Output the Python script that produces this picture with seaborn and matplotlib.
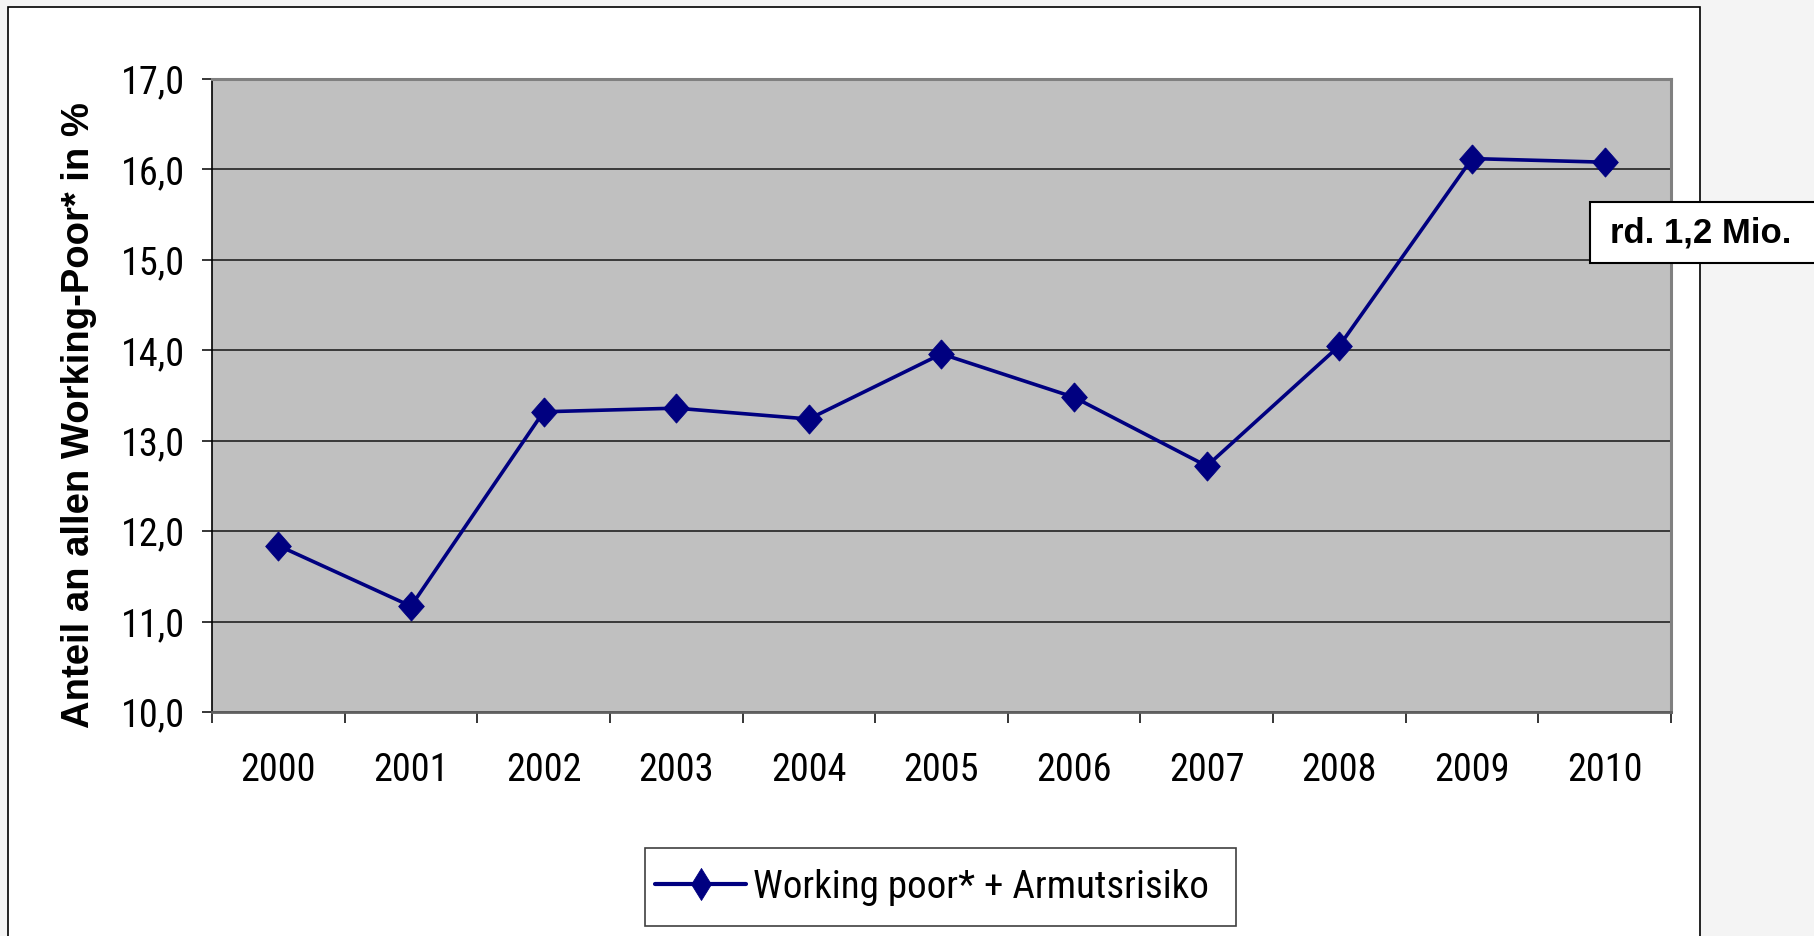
import numpy as np
import pandas as pd
import matplotlib
matplotlib.use("Agg")
import matplotlib.pyplot as plt
from matplotlib import font_manager
from matplotlib.font_manager import FontProperties
from matplotlib.patches import Rectangle
import seaborn as sns

# ---- data ----
years = [2000, 2001, 2002, 2003, 2004, 2005, 2006, 2007, 2008, 2009, 2010]
values = [11.84, 11.17, 13.32, 13.36, 13.24, 13.96, 13.48, 12.72, 14.05, 16.12, 16.08]
series_label = "Working poor* + Armutsrisiko"
y_ticks = [10, 11, 12, 13, 14, 15, 16, 17]
y_tick_labels = ["10,0", "11,0", "12,0", "13,0", "14,0", "15,0", "16,0", "17,0"]
y_label = "Anteil an allen Working-Poor* in %"
note_text = "rd. 1,2 Mio."

sns.set_style("white")
plt.rcParams["font.family"] = ["Liberation Sans", "DejaVu Sans"]
plt.rcParams["text.color"] = "black"
plt.rcParams["xtick.color"] = "black"
plt.rcParams["ytick.color"] = "black"
plt.rcParams["axes.labelcolor"] = "black"


# ---- pick a narrow / condensed regular face if one is installed ----
def _w(f):
    w = f.weight
    if isinstance(w, str):
        return font_manager.weight_dict.get(w, 400)
    return w


def pick_condensed():
    cands = []
    prefs = ["Liberation Sans Narrow", "Arimo", "Roboto", "Noto Sans", "Open Sans",
             "Lato", "Inter", "DejaVu Sans"]
    for f in font_manager.fontManager.ttflist:
        nm = f.name
        st = str(f.stretch)
        is_narrow = ("Narrow" in nm or "Condensed" in nm or "condensed" in st
                     or "narrow" in st)
        if not is_narrow or f.style != "normal" or _w(f) != 400:
            continue
        if "ultra" in st or "extra" in st:
            continue
        if "CJK" in nm or "Mono" in nm or "Serif" in nm:
            continue
        rank = len(prefs)
        for i, p in enumerate(prefs):
            if nm.startswith(p):
                rank = i
                break
        semi = 1 if "semi" in st else 0
        cands.append((rank, semi, f.fname))
    if not cands:
        return None
    cands.sort()
    return cands[0][2]


cond_path = pick_condensed()


def reg_fp(size):
    if cond_path:
        return FontProperties(fname=cond_path, size=size)
    return FontProperties(family=["Liberation Sans", "DejaVu Sans"], size=size)


W, H = 1815, 936
fig = plt.figure(figsize=(W / 100, H / 100), dpi=100, facecolor="#f4f4f4")
renderer = fig.canvas.get_renderer()


def fit_size(text, target_px, max_size):
    t = fig.text(0, 0, text, fontproperties=reg_fp(20))
    w = t.get_window_extent(renderer).width
    t.remove()
    return min(max_size, 20 * target_px / w)


tick_size = fit_size("2000", 76, 27.5)
leg_size = fit_size(series_label, 455, 34)

# outer white frame
fig.patches.append(Rectangle((8 / W, -0.02), (1700 - 8) / W, (H - 7) / H + 0.02,
                             transform=fig.transFigure, facecolor="white",
                             edgecolor="black", linewidth=1.2, zorder=-5))
# legend frame (drawn below the axes layer, so the legend sits on top)
fig.patches.append(Rectangle((645 / W, 1 - 926 / H), (1236 - 645) / W, (926 - 848) / H,
                             transform=fig.transFigure, facecolor="white",
                             edgecolor="#404040", linewidth=1.2, zorder=-4))

ax = fig.add_axes([212 / W, 1 - 712 / H, (1671 - 212) / W, (712 - 79) / H])
ax.set_facecolor("#c0c0c0")

diamond = [(0, 1), (0.88, 0), (0, -1), (-0.88, 0), (0, 1)]
df = pd.DataFrame({"Jahr": years, "Wert": values})
sns.lineplot(data=df, x="Jahr", y="Wert", ax=ax, color="#000080", linewidth=2.6,
             marker=diamond, markersize=21, markeredgewidth=0.6,
             markeredgecolor="#000080", markerfacecolor="#000080",
             label=series_label, zorder=5)

ax.set_xlim(years[0] - 0.5, years[-1] + 0.5)
ax.set_ylim(y_ticks[0], y_ticks[-1])
ax.set_yticks(y_ticks)
ax.set_yticklabels(y_tick_labels)
ax.yaxis.grid(True, color="#151515", linewidth=1.1)
ax.xaxis.grid(False)
ax.set_axisbelow(True)

# category boundaries as major ticks, labels on minor ticks
ax.set_xticks([y - 0.5 for y in years] + [years[-1] + 0.5])
ax.set_xticklabels([])
ax.set_xticks(years, minor=True)
ax.set_xticklabels([str(y) for y in years], minor=True)
ax.tick_params(axis="x", which="major", direction="out", length=8, width=1.1,
               color="black", bottom=True)
ax.tick_params(axis="x", which="minor", length=0, pad=29)
ax.tick_params(axis="y", which="major", direction="out", length=7.5, width=1.1,
               color="black", left=True, pad=12)
for lab in ax.get_xticklabels(minor=True) + ax.get_yticklabels():
    lab.set_fontproperties(reg_fp(tick_size))
    lab.set_color("black")

ax.set_xlabel("")
ax.set_ylabel(y_label, fontsize=27.5, fontweight="bold",
              family=["Liberation Sans", "DejaVu Sans"], color="black")
ax.yaxis.set_label_coords((79 - 212) / (1671 - 212), 1 - (415 - 79) / (712 - 79))
ax.yaxis.label.set_verticalalignment("center")

for s in ["top", "right"]:
    ax.spines[s].set_color("#808080")
    ax.spines[s].set_linewidth(2.2)
ax.spines["left"].set_color("black")
ax.spines["left"].set_linewidth(1.2)
ax.spines["bottom"].set_color("#606060")
ax.spines["bottom"].set_linewidth(2.0)

leg_px = leg_size * 100 / 72
leg = ax.legend(loc="center", bbox_to_anchor=(932 / W, 1 - 887 / H),
                bbox_transform=fig.transFigure, frameon=False,
                prop=reg_fp(leg_size), handlelength=91 / leg_px,
                handletextpad=7 / leg_px, borderpad=0, borderaxespad=0)
for t in leg.get_texts():
    t.set_color("black")
for h in leg.legend_handles:
    h.set_marker([(0, 1), (0.62, 0), (0, -1), (-0.62, 0), (0, 1)])
    h.set_markersize(23)
    h.set_linewidth(3.0)

# annotation box
fig.patches.append(Rectangle((1590 / W, 1 - 263 / H), 300 / W, 61 / H,
                             transform=fig.transFigure, facecolor="white",
                             edgecolor="black", linewidth=1.5, zorder=10))
fig.text(1610 / W, 1 - 233 / H, note_text, fontsize=25, fontweight="bold",
         family=["Liberation Sans", "DejaVu Sans"], color="black",
         ha="left", va="center", zorder=11)

fig.savefig("out.png", dpi=100, facecolor=fig.get_facecolor())
